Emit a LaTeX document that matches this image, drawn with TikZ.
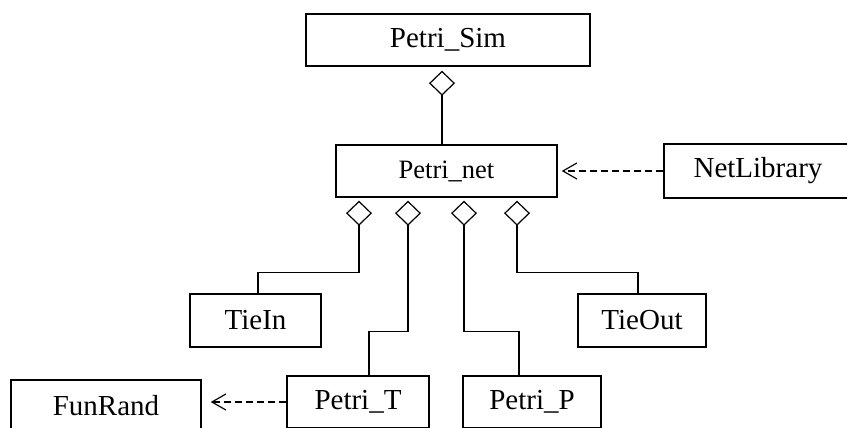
\documentclass[tikz,border=0pt]{standalone}
\usepackage{fontspec}
\setmainfont{Liberation Serif}
\usetikzlibrary{arrows.meta}

\begin{document}
\begin{tikzpicture}[x=1pt,y=-1pt,
    cls/.style={draw,line width=1.4pt,inner sep=0pt,minimum height=52pt,font=\fontsize{29}{32}\selectfont},
    hasa/.style={{Diamond[open,length=25pt,width=26pt]}-,line width=1.2pt},
    uses/.style={-{Straight Barb[length=14pt,width=16pt]},line width=1.2pt,dash pattern=on 7pt off 4pt}]
  \useasboundingbox (0,0) rectangle (847,428);
  \clip (0,0) rectangle (847,428);
  % classes
  \node[cls,minimum width=284pt] (sim) at (448,40) {Petri\_Sim};
  \node[cls,minimum width=221pt,font=\fontsize{26.5}{30}\selectfont] (net) at (446.5,171) {Petri\_net};
  \node[cls,minimum width=188pt,minimum height=54pt] (lib) at (758,171) {NetLibrary};
  \node[cls,minimum width=131pt,minimum height=53pt] (tin) at (255.5,320.5) {TieIn};
  \node[cls,minimum width=128pt,minimum height=53pt] (tout) at (642,320.5) {TieOut};
  \node[cls,minimum width=142pt] (ptT) at (358,402) {Petri\_T};
  \node[cls,minimum width=138pt] (ptP) at (532,402) {Petri\_P};
  \node[cls,minimum width=190pt] (rand) at (106,406) {FunRand};
  % aggregations
  \draw[hasa] ([xshift=-6pt,yshift=-4pt]sim.south) -- ([xshift=-4.5pt]net.north);
  \draw[hasa] ([xshift=-87.5pt,yshift=-3pt]net.south) -- ++(0,72) -| ([xshift=2.5pt]tin.north);
  \draw[hasa] ([xshift=-38.5pt,yshift=-3pt]net.south) -- ++(0,131) -| ([xshift=11pt]ptT.north);
  \draw[hasa] ([xshift=17.5pt,yshift=-3pt]net.south) -- ++(0,131) -| ([xshift=-13pt]ptP.north);
  \draw[hasa] ([xshift=70.5pt,yshift=-3pt]net.south) -- ++(0,72) -| ([xshift=-4pt]tout.north);
  % dependencies
  \draw[uses,shorten >=4pt] (lib.west) -- (net.east);
  \draw[uses,shorten >=9pt] (ptT.west) -- (ptT.west -| rand.east);
\end{tikzpicture}
\end{document}
